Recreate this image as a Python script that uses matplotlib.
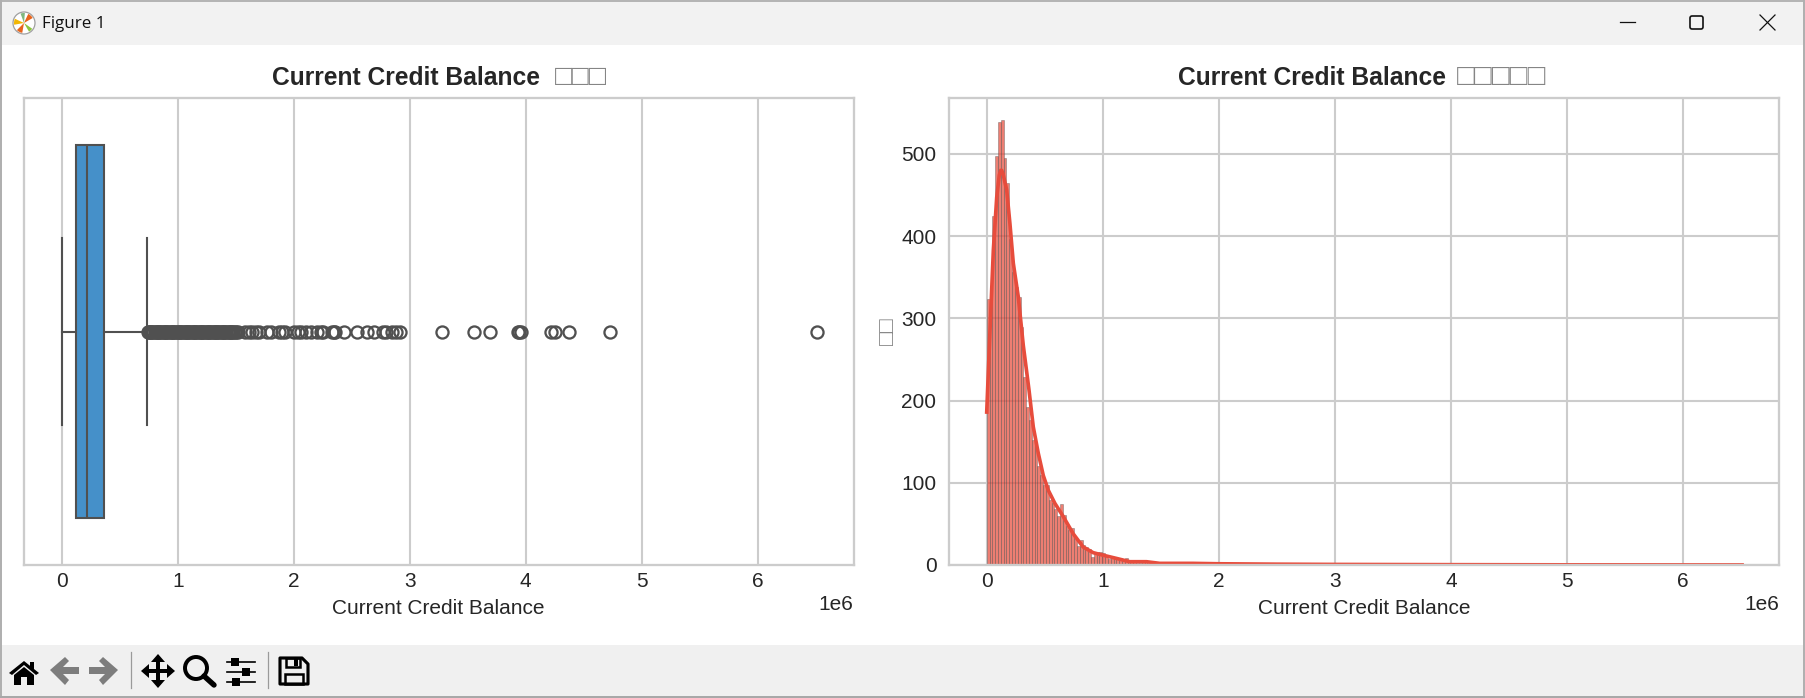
import matplotlib
matplotlib.use("Agg")
import matplotlib.pyplot as plt
from matplotlib.patches import Rectangle, Polygon, Circle, FancyBboxPatch, Wedge
import numpy as np

plt.rcParams['font.family'] = ['Liberation Sans', 'DejaVu Sans']

# ---------- data ----------
feature = "Current Credit Balance"
missing_box = "\u25a1\u25a1\u25a1"
missing_hist = "\u25a1\u25a1\u25a1\u25a1\u25a1"
ylabel_hist = "\u25a1\u25a1"
x_ticks = [0, 1e6, 2e6, 3e6, 4e6, 5e6, 6e6]
y_ticks = [0, 100, 200, 300, 400, 500]

box_q1 = 0.122e6
box_median = 0.218e6
box_q3 = 0.367e6
whisker_low = 0.0
whisker_high = 0.737e6

outliers_m = [
    0.74, 0.75, 0.76, 0.77, 0.78, 0.79, 0.80, 0.81, 0.82, 0.83, 0.84, 0.85, 0.86,
    0.87, 0.88, 0.89, 0.90, 0.91, 0.92, 0.93, 0.94, 0.95, 0.96, 0.97, 0.98, 0.99, 1.00,
    1.01, 1.02, 1.03, 1.04, 1.05, 1.06, 1.07, 1.08, 1.09, 1.10, 1.11, 1.12, 1.13, 1.14,
    1.15, 1.16, 1.17, 1.18, 1.19, 1.20, 1.21, 1.22, 1.23, 1.24, 1.25, 1.26, 1.27, 1.28,
    1.29, 1.30, 1.31, 1.32, 1.33, 1.34, 1.35, 1.36, 1.37, 1.38, 1.39, 1.40, 1.41, 1.42,
    1.43, 1.44, 1.45, 1.46, 1.47, 1.48, 1.49, 1.50, 1.519, 1.58, 1.614, 1.64, 1.672, 1.70,
    1.772, 1.80, 1.873, 1.90, 1.922, 2.002, 2.04, 2.059, 2.102, 2.146, 2.20, 2.232, 2.25,
    2.33, 2.347, 2.36, 2.433, 2.548, 2.628, 2.691, 2.77, 2.792, 2.85, 2.88, 2.915,
    3.28, 3.557, 3.695, 3.93, 3.945, 3.955, 4.22, 4.25, 4.375, 4.727, 6.507,
]

hist_max = 6.507e6
hist_counts = [
    323, 329, 425, 498, 539, 541, 495, 465, 397, 356, 338, 326, 290, 229, 192, 176,
    152, 150, 121, 109, 97, 97, 79, 75, 68, 60, 74, 61, 47, 43, 45, 33, 23, 31, 24, 22,
    20, 10, 16, 16, 16, 15, 12, 7, 10, 9, 8, 8, 6, 9, 6, 4,
    4, 3, 3, 4, 6, 3, 3, 3,
    2, 2, 2, 3, 2, 2, 2, 3, 2, 2,
    2, 1, 2, 2, 2, 1, 2, 1, 2, 1,
    1, 2, 1, 1, 1, 1, 2, 1, 1, 1,
    1, 1, 1, 1, 2, 1, 1, 0, 1, 1,
    1, 1, 0, 1, 1, 1, 0, 1, 1, 1,
    0, 1, 1, 0, 1, 1, 0, 1, 0, 1,
    1, 0, 0, 0, 0, 0, 0, 0, 0, 0,
    0, 0, 0, 0, 1, 0, 0, 0, 0, 0,
    0, 0, 0, 0, 0, 1, 0, 0, 0, 0,
    0, 1, 0, 0, 0, 0, 0, 0, 0, 0,
    0, 3, 0, 0, 0, 0, 0, 0, 0, 0,
    0, 0, 1, 1, 0, 0, 0, 0, 0, 1,
    0, 0, 0, 0, 0, 0, 0, 0, 0, 0,
    0, 0, 0, 1, 0, 0, 0, 0, 0, 0,
    0, 0, 0, 0, 0, 0, 0, 0, 0, 0,
    0, 0, 0, 0, 0, 0, 0, 0, 0, 0,
    0, 0, 0, 0, 0, 0, 0, 0, 0, 0,
    0, 0, 0, 0, 0, 0, 0, 0, 0, 0,
    0, 0, 0, 0, 0, 0, 0, 0, 0, 0,
    0, 0, 0, 0, 0, 0, 0, 0, 0, 0,
    0, 0, 0, 0, 0, 0, 0, 1,
]

kde_x_m = [0.0, 0.022, 0.057, 0.086, 0.108, 0.120, 0.129, 0.140, 0.172, 0.20, 0.229, 0.272,
           0.315, 0.364, 0.401, 0.444, 0.487, 0.53, 0.587, 0.659, 0.745, 0.83, 0.917, 1.0,
           1.118, 1.232, 1.376, 1.49, 1.775, 2.0, 2.5, 3.0, 4.0, 5.0, 6.507]
kde_y = [186, 264, 383, 447, 474, 480, 480, 476, 456, 415, 367, 326,
         267, 213, 168, 136, 109, 91, 75, 59, 38, 22, 15, 12,
         8, 4, 4, 2, 2, 1.5, 1, 0.7, 0.4, 0.2, 0.05]

# ---------- layout ----------
W, H = 1805, 698
fig = plt.figure(figsize=(W / 150, H / 150), dpi=150, facecolor="white")
INK = "#262626"
GRID = "#cccccc"
LINE = "#505050"
TOFU = "#858585"


def place(x0, x1, y0, y1):
    return fig.add_axes([x0 / W, 1 - y1 / H, (x1 - x0) / W, (y1 - y0) / H])


def style(ax):
    ax.set_facecolor("white")
    ax.set_axisbelow(True)
    ax.grid(True, color=GRID, lw=1.0)
    for s in ax.spines.values():
        s.set_color(GRID)
        s.set_linewidth(1.1)
    ax.tick_params(length=0, labelsize=10, labelcolor=INK)
    ax.tick_params(axis="x", pad=3.2)
    ax.tick_params(axis="y", pad=6)
    ax.xaxis.OFFSETTEXTPAD = 1.9
    ax.xaxis.get_offset_text().set_fontsize(10)
    ax.xaxis.get_offset_text().set_color(INK)
    ax.set_xticks(x_ticks)
    ax.set_xlabel(feature, fontsize=10, color=INK, labelpad=4, x=0.5)


# ---------- box plot ----------
ax1 = place(24, 853.5, 98, 565)
style(ax1)
stats = [dict(med=box_median, q1=box_q1, q3=box_q3, whislo=whisker_low, whishi=whisker_high,
              fliers=[v * 1e6 for v in outliers_m])]
ax1.bxp(stats, positions=[0], widths=0.8, vert=False, patch_artist=True,
        boxprops=dict(facecolor="#4590c9", edgecolor=LINE, linewidth=1.0),
        medianprops=dict(color=LINE, linewidth=1.0),
        whiskerprops=dict(color=LINE, linewidth=1.0),
        capprops=dict(color=LINE, linewidth=1.0),
        capwidths=0.4,
        flierprops=dict(marker="o", markerfacecolor="none", markeredgecolor=LINE,
                        markersize=5.8, markeredgewidth=1.1))
ax1.set_ylim(0.5, -0.5)
ax1.set_yticks([])
ax1.set_xlim(-0.325e6, 6.825e6)
ax1.set_xticks(x_ticks)
ax1.ticklabel_format(axis="x", style="sci", scilimits=(0, 0))

# ---------- histogram ----------
ax2 = place(949, 1779, 98, 565)
style(ax2)
counts = np.array(hist_counts)
edges = np.linspace(0, hist_max, len(counts) + 1)
ax2.bar(edges[:-1], counts, width=np.diff(edges), align="edge",
        facecolor=(0.906, 0.298, 0.235, 0.72), edgecolor=(0.3, 0.3, 0.3, 0.55), linewidth=0.3)
ax2.plot(np.array(kde_x_m) * 1e6, kde_y, color="#e74c3c", lw=1.75, solid_joinstyle="round")
ax2.set_xlim(-0.325e6, 6.825e6)
ax2.set_ylim(0, 568)
ax2.set_xticks(x_ticks)
ax2.set_yticks(y_ticks)
ax2.ticklabel_format(axis="x", style="sci", scilimits=(0, 0))
ax2.set_ylabel(ylabel_hist, fontsize=11, color=TOFU, labelpad=1.0)

# ---------- window chrome (pixel coordinates) ----------
ch = fig.add_axes([0, 0, 1, 1], zorder=5)
ch.set_xlim(0, W)
ch.set_ylim(H, 0)
ch.axis("off")
ch.patch.set_visible(False)

# subplot titles: bold words, then the thin grey boxes for the missing glyphs
ch.text(272.5, 85, feature, fontsize=11.8, fontweight="bold", color=INK, ha="left", va="baseline")
ch.text(555, 85, missing_box, fontsize=13.8, color=TOFU, ha="left", va="baseline")
ch.text(1178.5, 85, feature, fontsize=11.8, fontweight="bold", color=INK, ha="left", va="baseline")
ch.text(1457, 85, missing_hist, fontsize=14.2, color=TOFU, ha="left", va="baseline")

ch.add_patch(Rectangle((0, 0), W, 45, fc="#f2f2f2", ec="none", zorder=0))
ch.add_patch(Rectangle((0, 645), W, 53, fc="#f0f0f0", ec="none"))
ch.add_patch(Rectangle((0, 0), W, 2, fc="#b5b5b5", ec="none"))
ch.add_patch(Rectangle((0, 0), 2, H, fc="#b0b0b0", ec="none"))
ch.add_patch(Rectangle((W - 2, 0), 2, H, fc="#b0b0b0", ec="none"))
ch.add_patch(Rectangle((0, H - 2), W, 2, fc="#a8a8a8", ec="none"))

# app icon and caption
ch.add_patch(Circle((24, 23), 11, fc="white", ec="#a0a0a0", lw=0.6))
ch.add_patch(Wedge((24, 23), 10, 100, 135, fc="#e8641b", ec="none"))
ch.add_patch(Wedge((24, 23), 10, 295, 330, fc="#e8641b", ec="none"))
ch.add_patch(Wedge((24, 23), 10, 170, 205, fc="#f2b705", ec="none"))
ch.add_patch(Wedge((24, 23), 10, 35, 60, fc="#8cc63f", ec="none"))
ch.add_patch(Wedge((24, 23), 10, 250, 275, fc="#7fb77e", ec="none"))
ch.text(42, 23.5, "Figure 1", fontsize=8.2, family="Open Sans", color="#111111", va="center", ha="left")

# window buttons
ch.plot([1620, 1635], [22, 22], color="#111111", lw=0.6)
ch.add_patch(FancyBboxPatch((1690, 16), 13, 13, boxstyle="round,pad=0,rounding_size=2",
                            fc="none", ec="#111111", lw=0.8))
ch.plot([1760, 1775], [15, 30], color="#111111", lw=0.6)
ch.plot([1760, 1775], [30, 15], color="#111111", lw=0.6)

# toolbar: home
ch.add_patch(Polygon([(9, 673), (24, 661), (39, 673), (36, 675), (24, 665), (12, 675)], fc="black"))
ch.add_patch(Polygon([(14, 675), (24, 667), (34, 675), (34, 685), (27, 685), (27, 677),
                      (21, 677), (21, 685), (14, 685)], fc="black"))
ch.add_patch(Rectangle((30, 662), 4, 7, fc="black"))
# back / forward (grey)
ch.add_patch(Polygon([(50, 670), (65, 657), (69, 661), (63, 667), (79, 667), (79, 674), (63, 674),
                      (69, 680), (65, 685)], fc="#7d7d7d"))
ch.add_patch(Polygon([(118, 670), (103, 657), (99, 661), (105, 667), (89, 667), (89, 674),
                      (105, 674), (99, 680), (103, 685)], fc="#7d7d7d"))
# separators
ch.plot([130.5, 130.5], [652, 688], color="#9a9a9a", lw=0.6)
ch.plot([267.5, 267.5], [652, 688], color="#9a9a9a", lw=0.6)
# move
ch.add_patch(Polygon([(158, 654), (165, 662), (160, 662), (160, 669), (167, 669), (167, 664),
                      (175, 671), (167, 678), (167, 673), (160, 673), (160, 680), (165, 680),
                      (158, 688), (151, 680), (156, 680), (156, 673), (149, 673), (149, 678),
                      (141, 671), (149, 664), (149, 669), (156, 669), (156, 662), (151, 662)],
                     fc="black"))
# zoom
ch.add_patch(Circle((196, 668), 11, fc="none", ec="black", lw=1.9))
ch.plot([204, 214], [676, 685], color="black", lw=2.6, solid_capstyle="round")
# sliders
for yy, xx in [(662, 235), (672, 246), (682, 236)]:
    ch.plot([227, 255], [yy, yy], color="black", lw=0.8)
    ch.add_patch(Rectangle((xx - 4, yy - 4), 8, 8, fc="black"))
# save
ch.add_patch(Polygon([(280, 658), (302, 658), (308, 664), (308, 684), (280, 684)],
                     fc="none", ec="black", lw=1.5, joinstyle="round"))
ch.add_patch(Rectangle((286, 658), 14, 9, fc="none", ec="black", lw=1.2))
ch.add_patch(Rectangle((294, 659), 4, 7, fc="black"))
ch.add_patch(Rectangle((285, 674), 18, 10, fc="none", ec="black", lw=1.2))

fig.savefig("out.png", dpi=150, facecolor="white")
